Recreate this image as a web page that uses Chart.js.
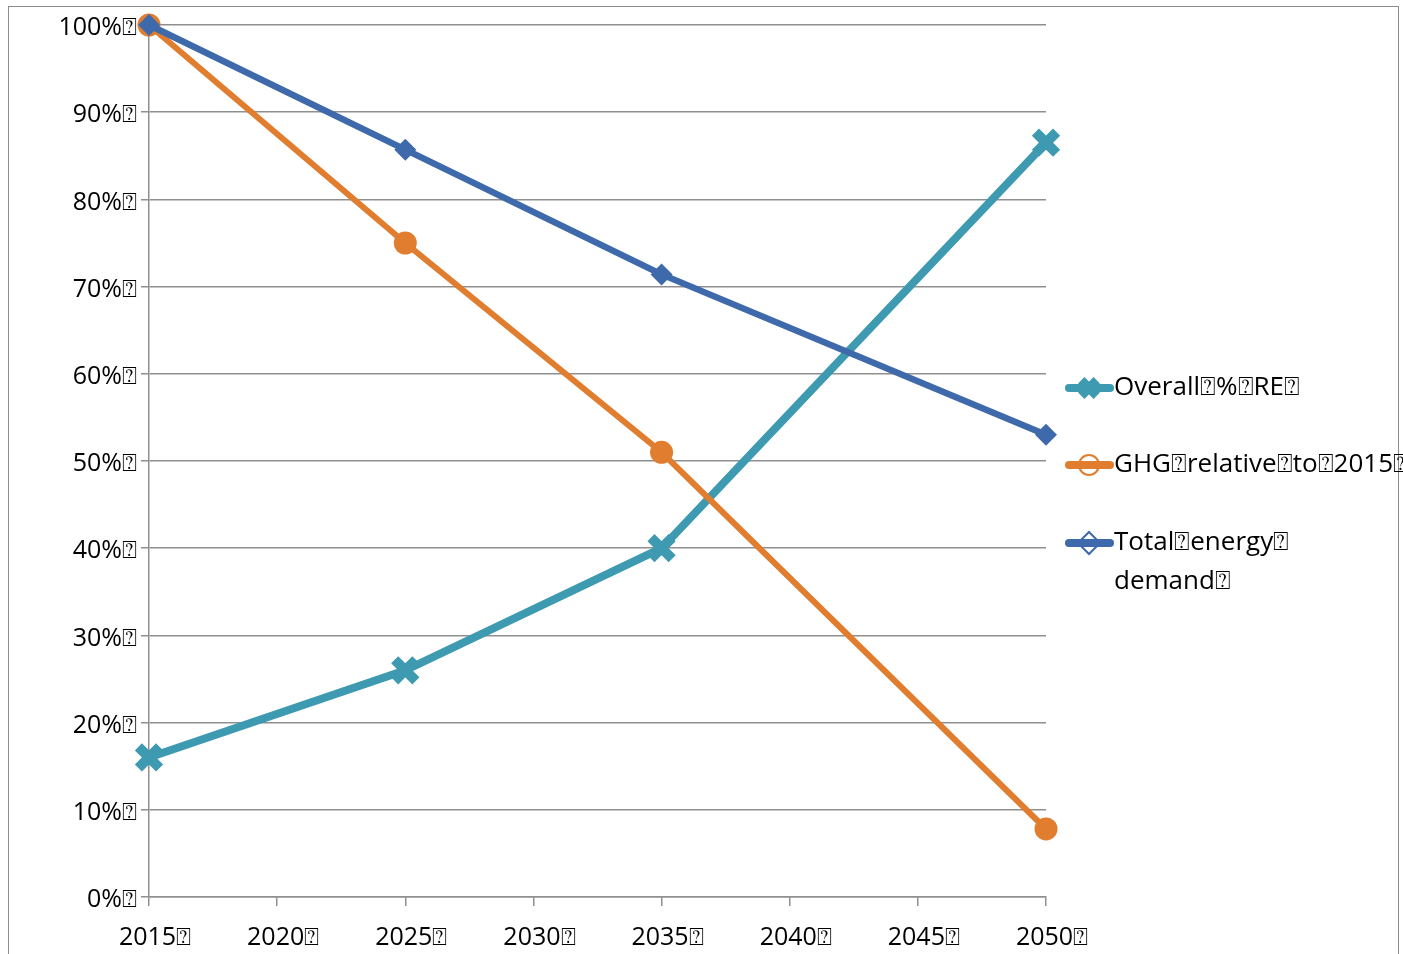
<!DOCTYPE html>
<html>
<head>
  <title>RE share, GHG and energy demand</title>
  <script src="https://cdn.jsdelivr.net/npm/chart.js"></script>
  <style>
    body { margin: 0; background: #fff; }
    #wrap { position: relative; width: 1403px; height: 954px; }
    #frame { position: absolute; left: 8px; top: 6px; width: 1391px; height: 950px; border: 1px solid #8c8c8c; border-bottom-color: #c8c8c8; box-sizing: border-box; }
    #chart { position: absolute; left: 0; top: 0; }
  </style>
</head>
<body>
  <div id="wrap">
    <div id="frame"></div>
    <canvas id="chart" width="1403" height="954"></canvas>
  </div>

  <script>
    var Q = '\u2370'; // the box glyph the original export shows in place of spaces

    var years = [2015, 2025, 2035, 2050];
    var overallRE = [16, 26, 40, 86.5];
    var ghgRelative = [100, 75, 51, 7.8];
    var totalDemand = [100, 85.7, 71.4, 53];

    var seriesNames = [
      ['Overall' + Q + '%' + Q + 'RE' + Q],
      ['GHG' + Q + 'relative' + Q + 'to' + Q + '2015' + Q],
      ['Total' + Q + 'energy' + Q, 'demand' + Q]
    ];

    function points(vals) {
      return years.map(function (y, i) { return { x: y, y: vals[i] }; });
    }

    var FONT = '"Open Sans", "DejaVu Sans", sans-serif';
    Chart.defaults.font.family = FONT;
    Chart.defaults.font.size = 25;
    Chart.defaults.color = '#000';

    // legend on the right, drawn by hand so the last label can wrap
    var sideLegend = {
      id: 'sideLegend',
      afterDraw: function (chart) {
        var ctx = chart.ctx;
        var rows = [388, 465, 543];
        ctx.save();
        chart.data.datasets.forEach(function (ds, i) {
          var y = rows[i];
          ctx.strokeStyle = ds.borderColor;
          ctx.lineWidth = 8;
          ctx.lineCap = 'round';
          ctx.beginPath();
          ctx.moveTo(1069, y);
          ctx.lineTo(1110, y);
          ctx.stroke();
          ctx.lineCap = 'butt';
          if (ds.legendFill) {
            ctx.fillStyle = ds.borderColor;
            ctx.lineWidth = 9;
          } else {
            ctx.fillStyle = 'rgba(0,0,0,0)';
            ctx.lineWidth = 2;
          }
          Chart.helpers.drawPoint(ctx, {
            pointStyle: ds.pointStyle,
            radius: ds.legendRadius,
            borderWidth: ctx.lineWidth,
            rotation: 0
          }, 1089, y);
          ctx.fillStyle = '#000';
          ctx.font = '26px ' + FONT;
          ctx.textBaseline = 'middle';
          ctx.textAlign = 'left';
          seriesNames[i].forEach(function (line, k) {
            ctx.fillText(line, 1114, y + k * 39);
          });
        });
        ctx.restore();
      }
    };

    var ctx = document.getElementById('chart').getContext('2d');
    var chart = new Chart(ctx, {
      type: 'line',
      data: {
        datasets: [{
          label: seriesNames[0].join(' '),
          data: points(overallRE),
          borderColor: '#3e9ab0',
          backgroundColor: '#3e9ab0',
          borderWidth: 8,
          pointStyle: 'crossRot',
          pointRadius: 15,
          pointBorderWidth: 10,
          legendFill: true,
          legendRadius: 11,
          clip: false,
          order: 2
        }, {
          label: seriesNames[1].join(' '),
          data: points(ghgRelative),
          borderColor: '#e07d2f',
          backgroundColor: '#e07d2f',
          borderWidth: 6,
          pointStyle: 'circle',
          pointRadius: 11.5,
          pointBorderWidth: 0,
          legendFill: false,
          legendRadius: 10,
          clip: false,
          order: 1
        }, {
          label: seriesNames[2].join(' '),
          data: points(totalDemand),
          borderColor: '#3e6aab',
          backgroundColor: '#3e6aab',
          borderWidth: 6.5,
          pointStyle: 'rectRot',
          pointRadius: 11,
          pointBorderWidth: 0,
          legendFill: false,
          legendRadius: 11,
          clip: false,
          order: 0
        }]
      },
      options: {
        responsive: false,
        animation: false,
        layout: { padding: { top: 20, right: 357, left: 0, bottom: 0 } },
        plugins: {
          legend: { display: false },
          tooltip: { enabled: false }
        },
        scales: {
          x: {
            type: 'linear',
            min: 2015,
            max: 2050,
            afterFit: function (s) { s.height = 57; },
            border: { color: '#8f8f8f', width: 1.5 },
            grid: { drawOnChartArea: false, drawTicks: true, tickLength: 9, color: '#8f8f8f', lineWidth: 1.5 },
            ticks: {
              stepSize: 5,
              padding: 17,
              labelOffset: 6,
              maxRotation: 0,
              callback: function (v) { return v + Q; }
            }
          },
          y: {
            min: 0,
            max: 100,
            afterFit: function (s) { s.width = 149; },
            border: { color: '#8f8f8f', width: 1.5 },
            grid: { color: '#8f8f8f', lineWidth: 1.5, tickLength: 8 },
            ticks: {
              stepSize: 10,
              padding: 4,
              labelOffset: 3,
              callback: function (v) { return v + '%' + Q; }
            }
          }
        }
      },
      plugins: [sideLegend]
    });
  </script>
</body>
</html>
